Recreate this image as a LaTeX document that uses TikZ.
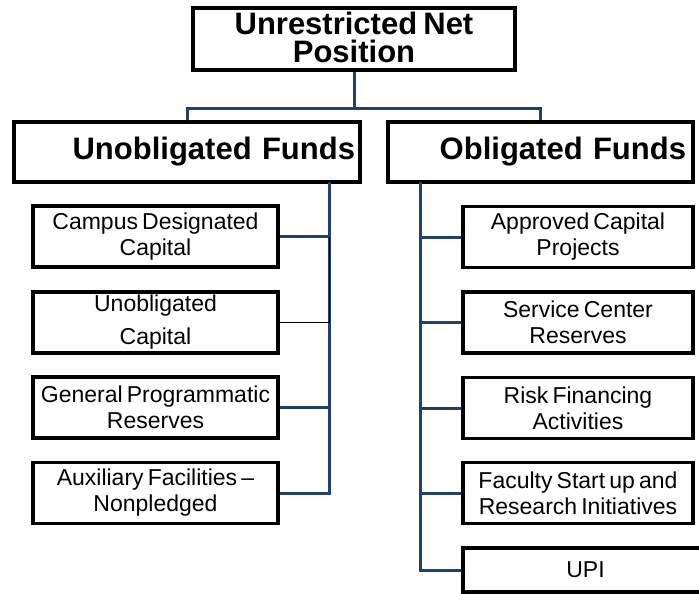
\documentclass[tikz,border=0pt]{standalone}
\usepackage{fontspec}
\setmainfont{Liberation Sans}
\usepackage{tikz}
\definecolor{navy}{RGB}{31,64,112}
\newcommand\headfont{\bfseries\fontsize{31}{28}\selectfont\spaceskip=0.2em\relax}
\newcommand\itemfont{\fontsize{23}{26}\selectfont\spaceskip=0.18em\relax}

\begin{document}
\begin{tikzpicture}[x=1pt,y=-1pt,
	headbox/.style={draw,line width=3.5pt,fill=white,inner sep=0pt,font=\headfont},
	itembox/.style={draw,line width=3.5pt,fill=white,inner sep=0pt,minimum width=245pt,minimum height=61pt,align=center,font=\itemfont},
	link/.style={navy,line width=3pt},
	thinlink/.style={black,line width=1pt}]
	\useasboundingbox (0,0) rectangle (699,594);
	% top of the chart
	\node [headbox,minimum width=322pt,minimum height=62pt,align=center] (top) at (354,39) {\raisebox{3pt}{Unrestricted Net}\\\raisebox{3pt}{Position}};
	\node [headbox,minimum width=346pt,minimum height=60pt,text width=336pt,align=right] (ufunds) at (187,152) {Unobligated Funds};
	\node [headbox,minimum width=305pt,minimum height=60pt,text width=291pt,align=right] (ofunds) at (540.5,152) {Obligated Funds};
	\coordinate (bus) at (354,108);
	\draw [link] (top.south) -- (bus);
	\draw [link] (ufunds.north) |- (bus) -| (ofunds.north);
	% left column
	\node [itembox] (campus) at (155.5,236.5) {Campus Designated\\Capital};
	\node [itembox] (ucap) at (155.5,322.5) {Unobligated\\[7pt]Capital};
	\node [itembox] (gpr) at (155.5,407.5) {General Programmatic\\Reserves};
	\node [itembox] (aux) at (155.5,493) {Auxiliary Facilities --\\Nonpledged};
	\coordinate (lspine) at (329,182);
	\draw [link] (lspine) |- (aux.east);
	\draw [link] (campus.east) -- (campus.east -| lspine);
	\draw [thinlink] (ucap.east) -| (campus.east -| lspine);
	\draw [link] (gpr.east) -- (gpr.east -| lspine);
	% right column
	\node [itembox,minimum width=230pt] (approved) at (578,237) {Approved Capital\\Projects};
	\node [itembox,minimum width=230pt] (service) at (578,322.5) {Service Center\\Reserves};
	\node [itembox,minimum width=230pt] (risk) at (578,408) {Risk Financing\\Activities};
	\node [itembox,minimum width=230pt] (faculty) at (578,493) {Faculty Start up and\\Research Initiatives};
	\node [itembox,minimum width=245pt,minimum height=44pt] (upi) at (585.5,570) {UPI};
	\coordinate (rspine) at (420,182);
	\draw [link] (rspine) |- (upi.west);
	\draw [link] (rspine |- approved.west) -- (approved.west);
	\draw [link] (rspine |- service.west) -- (service.west);
	\draw [link] (rspine |- risk.west) -- (risk.west);
	\draw [link] (rspine |- faculty.west) -- (faculty.west);
\end{tikzpicture}
\end{document}
